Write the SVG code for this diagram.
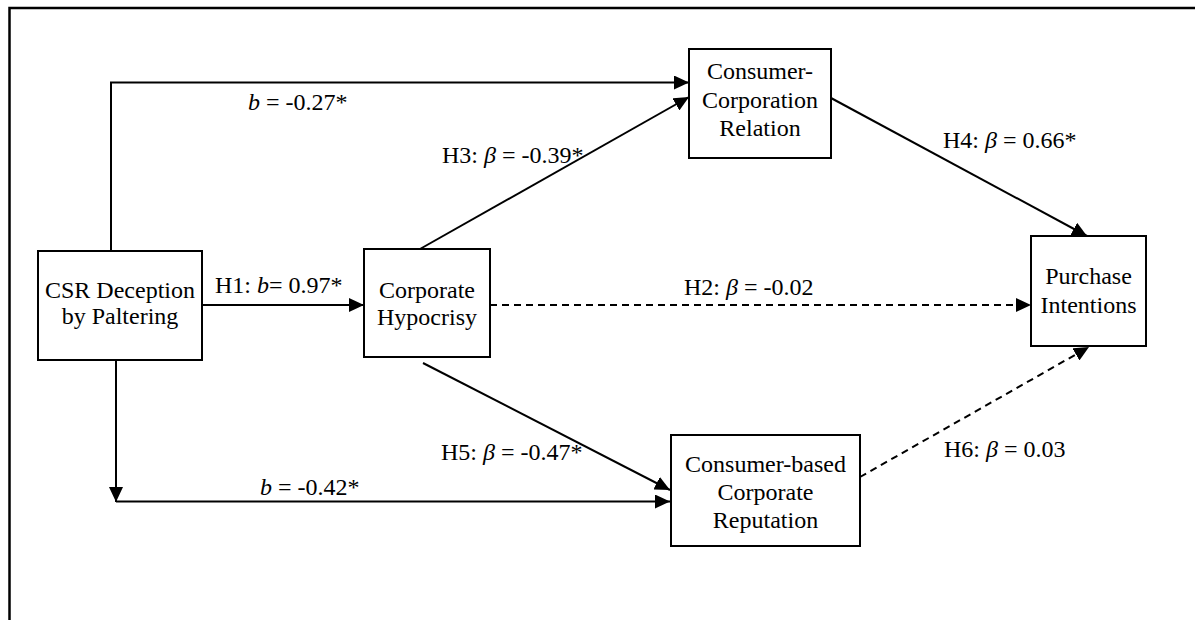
<svg xmlns="http://www.w3.org/2000/svg" width="1195" height="620" viewBox="0 0 1195 620">
<style>
.box{fill:#fff;stroke:#000;stroke-width:2}
.t{font-family:"Liberation Serif","Times New Roman",serif;font-size:24px;fill:#000}
.c{text-anchor:middle}
.i{font-style:italic}
.ln{fill:none;stroke:#000;stroke-width:2}
.ds{fill:none;stroke:#000;stroke-width:2;stroke-dasharray:7 5}
</style>
<defs>
<marker id="ah" markerUnits="userSpaceOnUse" markerWidth="15" markerHeight="14" refX="15" refY="7" orient="auto">
<path d="M0,0 L15,7 L0,14 Z" fill="#000"/>
</marker>
</defs>
<rect width="1195" height="620" fill="#fff"/>
<rect x="9.5" y="8" width="1200" height="700" fill="none" stroke="#000" stroke-width="2.5"/>
<g id="connectors">
<path class="ln" d="M111,251 V82.5 H689" marker-end="url(#ah)"/>
<path class="ln" d="M202,305 H364" marker-end="url(#ah)"/>
<path class="ds" d="M490,305 H1031" marker-end="url(#ah)"/>
<path class="ln" d="M420,249 L689,97" marker-end="url(#ah)"/>
<path class="ln" d="M831,98 L1087,236" marker-end="url(#ah)"/>
<path class="ln" d="M423,363 L670,490" marker-end="url(#ah)"/>
<path class="ds" d="M860,477 L1089,347" marker-end="url(#ah)"/>
<path class="ln" d="M116,360 V502" marker-end="url(#ah)"/>
<path class="ln" d="M116,501.5 H670" marker-end="url(#ah)"/>
</g>
<g id="labels">
<text class="t" x="248" y="110"><tspan class="i">b</tspan> = -0.27*</text>
<text class="t" x="442" y="163">H3: <tspan class="i">β</tspan> = -0.39*</text>
<text class="t" x="943" y="148">H4: <tspan class="i">β</tspan> = 0.66*</text>
<text class="t" x="215" y="293">H1: <tspan class="i">b</tspan>= 0.97*</text>
<text class="t" x="684" y="295">H2: <tspan class="i">β</tspan> = -0.02</text>
<text class="t" x="441" y="460">H5: <tspan class="i">β</tspan> = -0.47*</text>
<text class="t" x="944" y="457">H6: <tspan class="i">β</tspan> = 0.03</text>
<text class="t" x="260" y="495"><tspan class="i">b</tspan> = -0.42*</text>
</g>
<g id="csr">
<rect class="box" x="38" y="251" width="164" height="109"/>
<text class="t c" x="120" y="298">CSR Deception</text>
<text class="t c" x="120" y="324">by Paltering</text>
</g>
<g id="hypocrisy">
<rect class="box" x="364" y="249" width="126" height="108"/>
<text class="t c" x="427" y="298">Corporate</text>
<text class="t c" x="427" y="325">Hypocrisy</text>
</g>
<g id="relation">
<rect class="box" x="689" y="49" width="142" height="109"/>
<text class="t c" x="760" y="79">Consumer-</text>
<text class="t c" x="760" y="108">Corporation</text>
<text class="t c" x="760" y="136">Relation</text>
</g>
<g id="purchase">
<rect class="box" x="1031" y="236" width="115" height="110"/>
<text class="t c" x="1088.5" y="284">Purchase</text>
<text class="t c" x="1088.5" y="313">Intentions</text>
</g>
<g id="reputation">
<rect class="box" x="671" y="435" width="189" height="111"/>
<text class="t c" x="765.5" y="472">Consumer-based</text>
<text class="t c" x="765.5" y="500">Corporate</text>
<text class="t c" x="765.5" y="528">Reputation</text>
</g>
</svg>
